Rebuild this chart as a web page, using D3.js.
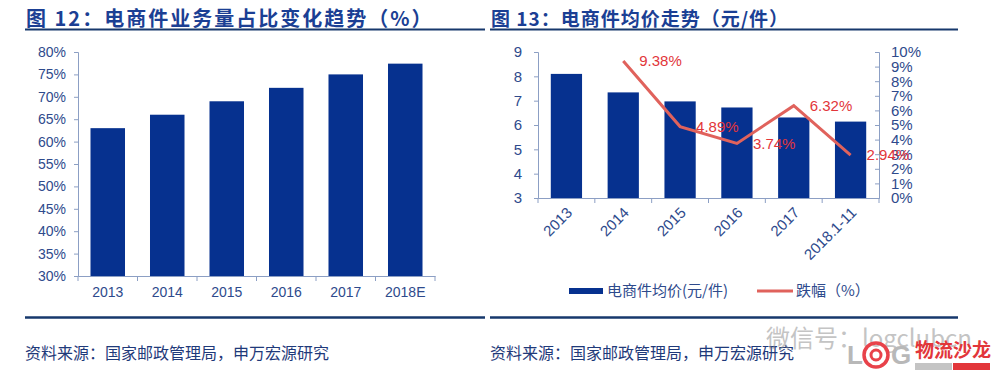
<!DOCTYPE html>
<html lang="zh">
<head>
<meta charset="utf-8">
<title>电商件</title>
<script src="https://d3js.org/d3.v7.min.js"></script>
<style>
  body { margin: 0; background: #fff; }
  text { font-family: "Liberation Sans", Arial, "Noto Sans CJK SC", sans-serif; }
  .cjk { font-family: "Noto Sans CJK SC", "Liberation Sans", sans-serif; }
</style>
</head>
<body>
<script>
// left chart: e-commerce share of parcel volume
var years1 = ["2013", "2014", "2015", "2016", "2017", "2018E"];
var share1 = [63, 66, 69, 72, 75, 77.4];
var yTicks1 = [30, 35, 40, 45, 50, 55, 60, 65, 70, 75, 80];

// right chart: average price per parcel and its decline
var years2 = ["2013", "2014", "2015", "2016", "2017", "2018.1-11"];
var price2 = [8.1, 7.34, 6.97, 6.72, 6.31, 6.14];
var drop2 = [null, 9.38, 4.89, 3.74, 6.32, 2.94];
var yTicks2 = [3, 4, 5, 6, 7, 8, 9];
var yTicks2r = [0, 1, 2, 3, 4, 5, 6, 7, 8, 9, 10];

var w = 1001, h = 387;
var barColor = "#06318f";
var axisColor = "#8c9fc4";
var labelColor = "#2e4a8c";
var titleColor = "#1b3f94";
var navy = "#17386c";
var lineColor = "#e0625c";

var svg = d3.select("body").append("svg")
    .attr("width", w)
    .attr("height", h);

function styleAxis(g) {
    g.selectAll("path, line").attr("stroke", axisColor);
    g.selectAll("text").attr("fill", labelColor).attr("font-size", 14);
}

// titles + rules
function header(x0, x1, title, fs, ls) {
    svg.append("text").attr("class", "cjk")
        .attr("x", x0 + 1).attr("y", 26)
        .attr("font-size", fs).attr("font-weight", "bold")
        .attr("letter-spacing", ls)
        .attr("fill", titleColor)
        .text(title);
    svg.append("line")
        .attr("x1", x0).attr("x2", x1).attr("y1", 29.5).attr("y2", 29.5)
        .attr("stroke", navy).attr("stroke-width", 2);
    svg.append("line")
        .attr("x1", x0).attr("x2", x1).attr("y1", 317.5).attr("y2", 317.5)
        .attr("stroke", navy).attr("stroke-width", 2.5);
    svg.append("text").attr("class", "cjk")
        .attr("x", x0).attr("y", 359)
        .attr("font-size", 16).attr("fill", "#1f3a7a")
        .text("资料来源：国家邮政管理局，申万宏源研究");
}
header(25, 485, "图 12：电商件业务量占比变化趋势（%）", 20, 2);
header(490, 958, "图 13：电商件均价走势（元/件）", 19, 1);

// ---- left chart
var x1 = d3.scaleBand().domain(years1).range([78, 435]).paddingInner(0.42).paddingOuter(0.21);
var y1 = d3.scaleLinear().domain([30, 80]).range([276, 52]);

svg.append("g").selectAll("rect")
    .data(share1)
    .enter().append("rect")
    .attr("x", function(d, i) { return x1(years1[i]); })
    .attr("width", x1.bandwidth())
    .attr("y", function(d) { return y1(d); })
    .attr("height", function(d) { return y1(30) - y1(d); })
    .attr("fill", barColor);

svg.append("g")
    .attr("transform", "translate(78,0)")
    .call(d3.axisLeft(y1).tickValues(yTicks1).tickSize(4).tickPadding(8)
        .tickFormat(function(d) { return d + "%"; }))
    .call(styleAxis);

var xa1 = svg.append("g")
    .attr("transform", "translate(0,276)")
    .call(d3.axisBottom(x1).tickSize(0).tickPadding(11))
    .call(styleAxis);
// boundary ticks
var step1 = x1.step();
xa1.selectAll("line.bnd")
    .data(d3.range(years1.length + 1))
    .enter().append("line").attr("class", "bnd")
    .attr("x1", function(i) { return 78 + i * step1; })
    .attr("x2", function(i) { return 78 + i * step1; })
    .attr("y1", 0).attr("y2", 5)
    .attr("stroke", axisColor);

// ---- right chart
var x2 = d3.scaleBand().domain(years2).range([538, 879]).paddingInner(0.45).paddingOuter(0.225);
var y2 = d3.scaleLinear().domain([3, 9]).range([198, 52]);
var y2r = d3.scaleLinear().domain([0, 10]).range([198, 52]);

svg.append("g").selectAll("rect")
    .data(price2)
    .enter().append("rect")
    .attr("x", function(d, i) { return x2(years2[i]); })
    .attr("width", x2.bandwidth())
    .attr("y", function(d) { return y2(d); })
    .attr("height", function(d) { return y2(3) - y2(d); })
    .attr("fill", barColor);

svg.append("g")
    .attr("transform", "translate(538,0)")
    .call(d3.axisLeft(y2).tickValues(yTicks2).tickSize(4).tickPadding(12)
        .tickFormat(d3.format("d")))
    .call(styleAxis)
    .selectAll("text").attr("font-size", 15);

svg.append("g")
    .attr("transform", "translate(879,0)")
    .call(d3.axisRight(y2r).tickValues(yTicks2r).tickSize(-4).tickPadding(12)
        .tickFormat(function(d) { return d + "%"; }))
    .call(styleAxis)
    .selectAll("text").attr("font-size", 15);

var xa2 = svg.append("g")
    .attr("transform", "translate(0,198)")
    .call(d3.axisBottom(x2).tickSize(0).tickPadding(0))
    .call(styleAxis);
xa2.selectAll(".tick text")
    .attr("text-anchor", "end")
    .attr("dy", "0.35em")
    .attr("y", 0)
    .attr("font-size", 15)
    .attr("transform", "translate(3,12) rotate(-45)");
var step2 = x2.step();
xa2.selectAll("line.bnd")
    .data(d3.range(years2.length + 1))
    .enter().append("line").attr("class", "bnd")
    .attr("x1", function(i) { return 538 + i * step2; })
    .attr("x2", function(i) { return 538 + i * step2; })
    .attr("y1", 0).attr("y2", 5)
    .attr("stroke", axisColor);

var pts = drop2.map(function(d, i) { return { k: years2[i], v: d }; })
    .filter(function(p) { return p.v != null; });
var line = d3.line()
    .x(function(p) { return x2(p.k) + x2.bandwidth() / 2; })
    .y(function(p) { return y2r(p.v); });
svg.append("path")
    .datum(pts)
    .attr("d", line)
    .attr("fill", "none")
    .attr("stroke", lineColor)
    .attr("stroke-width", 3);
svg.append("g").selectAll("text")
    .data(pts)
    .enter().append("text")
    .attr("x", function(p) { return x2(p.k) + x2.bandwidth() / 2 + 16; })
    .attr("y", function(p) { return y2r(p.v); })
    .attr("dy", "0.35em")
    .attr("font-size", 15)
    .attr("fill", "#e2363a")
    .text(function(p) { return p.v.toFixed(2) + "%"; });

// legend
var lg = svg.append("g").attr("transform", "translate(569,291)");
lg.append("rect").attr("x", 0).attr("y", -3).attr("width", 34).attr("height", 6).attr("fill", barColor);
lg.append("text").attr("class", "cjk").attr("x", 38).attr("dy", "0.35em")
    .attr("font-size", 15).attr("fill", labelColor).text("电商件均价(元/件)");
lg.append("line").attr("x1", 188).attr("x2", 224).attr("y1", 0).attr("y2", 0)
    .attr("stroke", lineColor).attr("stroke-width", 3);
lg.append("text").attr("class", "cjk").attr("x", 227).attr("dy", "0.35em")
    .attr("font-size", 15).attr("fill", labelColor).text("跌幅（%）");

// watermark
var wm = svg.append("g");
wm.append("text").attr("class", "cjk")
    .attr("x", 766).attr("y", 347)
    .attr("font-size", 24).attr("fill", "#8a8a8a").attr("opacity", 0.5)
    .text("微信号：logclubcn");
wm.append("text")
    .attr("x", 847).attr("y", 364)
    .attr("font-size", 26).attr("font-weight", "bold")
    .attr("fill", "#b8b8b8")
    .text("L");
wm.append("text")
    .attr("x", 891).attr("y", 364)
    .attr("font-size", 26).attr("font-weight", "bold")
    .attr("fill", "#b8b8b8")
    .text("G");
wm.append("circle").attr("cx", 876).attr("cy", 355).attr("r", 12)
    .attr("fill", "none").attr("stroke", "#e8424a").attr("stroke-width", 3.5);
wm.append("circle").attr("cx", 876).attr("cy", 355).attr("r", 5)
    .attr("fill", "none").attr("stroke", "#e8424a").attr("stroke-width", 3);
wm.append("text").attr("class", "cjk")
    .attr("x", 915).attr("y", 357)
    .attr("font-size", 19).attr("font-weight", "bold")
    .attr("fill", "#e2363a")
    .text("物流沙龙");
wm.append("rect").attr("x", 915).attr("y", 363).attr("width", 37).attr("height", 7).attr("fill", "#c4c4c4");
wm.append("rect").attr("x", 953).attr("y", 363).attr("width", 37).attr("height", 7).attr("fill", "#e2363a");
</script>
</body>
</html>
